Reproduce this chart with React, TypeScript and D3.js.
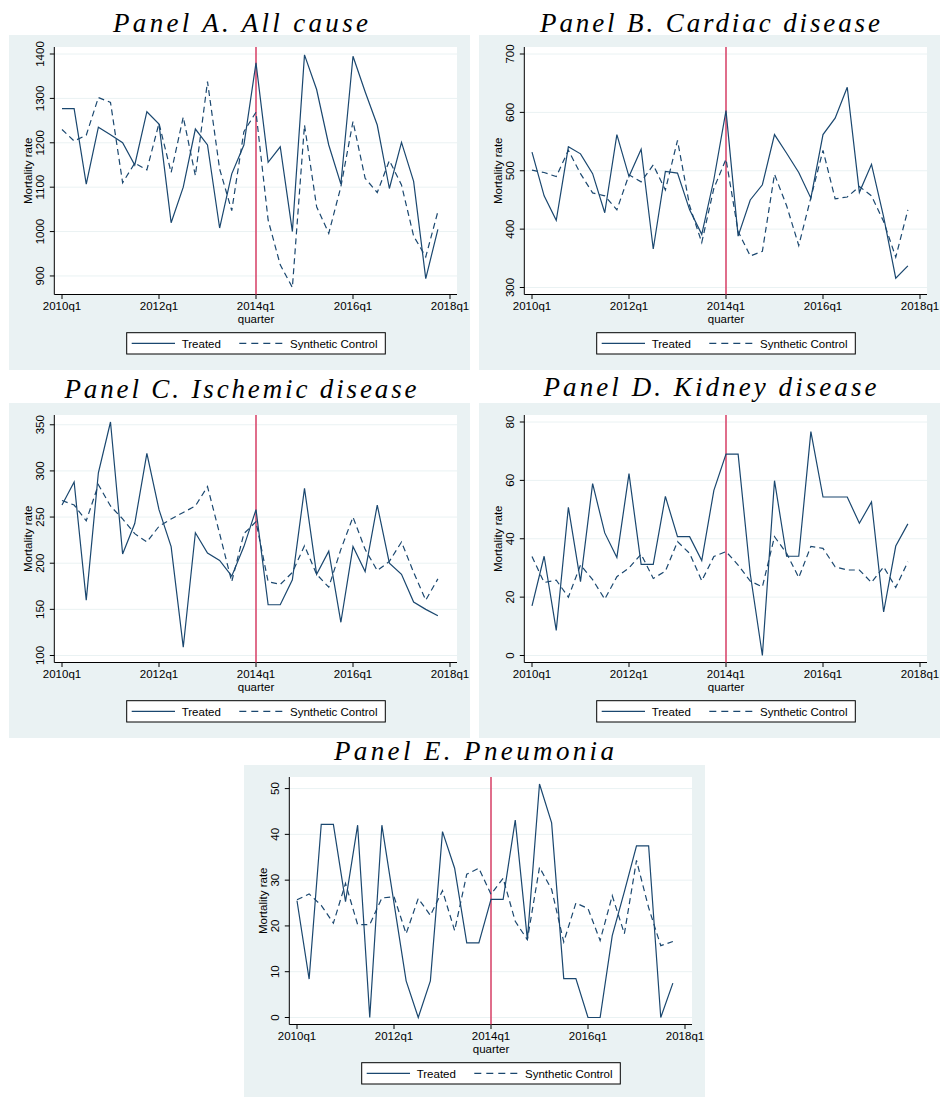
import React from "react";
import * as d3 from "d3";

// ---------- data (quarters 2010q1 .. 2017q4, index 0..31) ----------
const allTreated = [1277, 1277, 1107, 1235, 1218, 1200, 1150, 1270, 1242, 1020, 1100, 1231, 1195, 1008, 1130, 1195, 1380, 1156, 1191, 1000, 1398, 1320, 1195, 1107, 1395, 1315, 1240, 1097, 1201, 1113, 894, 1005];
const allSynth = [1230, 1204, 1217, 1302, 1291, 1110, 1154, 1139, 1244, 1133, 1258, 1126, 1338, 1141, 1047, 1225, 1269, 1026, 925, 874, 1240, 1056, 996, 1101, 1248, 1120, 1088, 1160, 1105, 990, 943, 1045];

const cardTreated = [532, 457, 415, 541, 529, 495, 428, 562, 490, 537, 366, 499, 496, 433, 391, 485, 603, 388, 450, 476, 562, 530, 497, 453, 562, 590, 643, 463, 511, 421, 316, 337];
const cardSynth = [501, 497, 490, 535, 495, 462, 457, 433, 493, 481, 510, 467, 552, 440, 377, 470, 520, 396, 354, 362, 494, 440, 372, 454, 535, 452, 455, 473, 457, 413, 352, 433];

const ischTreated = [263, 288, 160, 298, 353, 210, 243, 319, 258, 218, 109, 233, 211, 203, 186, 218, 258, 155, 155, 182, 281, 188, 213, 136, 218, 191, 263, 200, 188, 158, 150, 143];
const ischSynth = [268, 263, 246, 285, 262, 248, 232, 223, 240, 248, 255, 262, 283, 232, 180, 232, 245, 180, 177, 190, 219, 188, 174, 215, 250, 215, 192, 202, 223, 190, 160, 183];

const kidTreated = [17, 34, 8.6, 50.8, 25.3, 58.9, 42, 33.6, 62.3, 31.2, 31.2, 54.5, 40.7, 40.7, 32.5, 56.6, 69, 69, 28, 0, 59.9, 34, 34, 76.7, 54.3, 54.3, 54.3, 45.3, 52.6, 14.9, 37.5, 45.1];
const kidSynth = [33.9, 25, 25.8, 20, 31, 26, 19.3, 27, 30, 34.7, 26.4, 28.9, 39, 35, 25.6, 33.9, 35.6, 31, 25.5, 23.5, 40.7, 35, 26.7, 37.4, 36.7, 30.4, 29.3, 29.3, 25, 30.4, 23.3, 32.1];

const pneuTreated = [25.5, 8.4, 42.2, 42.2, 25.3, 42, 0, 42, 25, 8, 0, 8, 40.6, 32.6, 16.3, 16.3, 25.8, 25.8, 43.1, 17, 51, 42.5, 8.5, 8.5, 0, 0, 17.9, 27.5, 37.5, 37.5, 0, 7.5];
const pneuSynth = [25.7, 27, 24.5, 20.6, 29.3, 20.3, 20.3, 26.1, 26.4, 18.3, 26, 22.3, 27.7, 19, 31.3, 32.6, 26.9, 30.4, 21, 17, 32.8, 28, 16.5, 25, 23.8, 16.8, 26.6, 18.3, 34.3, 24, 15.7, 16.6];

const xTickPos = [0, 8, 16, 24, 32];
const xTickLabels = ["2010q1", "2012q1", "2014q1", "2016q1", "2018q1"];
const treatmentQuarter = 16;

const allTicks = [900, 1000, 1100, 1200, 1300, 1400];
const cardTicks = [300, 400, 500, 600, 700];
const ischTicks = [100, 150, 200, 250, 300, 350];
const kidTicks = [0, 20, 40, 60, 80];
const pneuTicks = [0, 10, 20, 30, 40, 50];

const titles = [
  "Panel A. All cause",
  "Panel B. Cardiac disease",
  "Panel C. Ischemic disease",
  "Panel D. Kidney disease",
  "Panel E. Pneumonia",
];
const legendLabels = ["Treated", "Synthetic Control"];

// ---------- styles ----------
const BG = "#eaf2f3";
const NAVY = "#1a476f";
const RED = "#d94a6e";
const SANS = "'Liberation Sans', Arial, sans-serif";
const SERIF = "'Liberation Serif', 'Times New Roman', serif";

const W = 461;
const H = 335;
const PLOT_L = 45.3;
const PLOT_R = 448;
const PLOT_T = 12;
const AXIS_Y = 259.5;

type PanelProps = {
  x0: number;
  y0: number;
  title: string;
  titleX: number;
  titleY: number;
  titleLen: number;
  treated: number[];
  synth: number[];
  ticks: number[];
};

function Panel({ x0, y0, title, titleX, titleY, titleLen, treated, synth, ticks }: PanelProps) {
  const x = d3.scaleLinear().domain([0, 32]).range([53, 441]);
  const lo = Math.min(d3.min(treated)!, d3.min(synth)!, ticks[0]);
  const hi = Math.max(d3.max(treated)!, d3.max(synth)!, ticks[ticks.length - 1]);
  const y = d3.scaleLinear().domain([lo, hi]).range([AXIS_Y - 7, PLOT_T + 7]);
  const line = d3
    .line<number>()
    .x((_, i) => x(i))
    .y((d) => y(d));
  const midY = (PLOT_T + AXIS_Y) / 2;
  return (
    <g>
      <text
        x={titleX}
        y={titleY}
        textAnchor="middle"
        fontFamily={SERIF}
        fontStyle="italic"
        fontSize={27}
        textLength={titleLen}
        lengthAdjust="spacing"
        fill="#000"
      >
        {title}
      </text>
      <g transform={`translate(${x0},${y0})`}>
        <rect x={0} y={0} width={W} height={H} fill={BG} />
        <rect x={PLOT_L} y={PLOT_T} width={PLOT_R - PLOT_L} height={AXIS_Y - PLOT_T} fill="#fff" />
        {ticks.map((t) => (
          <line key={"g" + t} x1={PLOT_L} x2={PLOT_R} y1={y(t)} y2={y(t)} stroke={BG} strokeWidth={1} />
        ))}
        {/* axes */}
        <line x1={PLOT_L} x2={PLOT_L} y1={PLOT_T} y2={AXIS_Y} stroke="#000" strokeWidth={1} />
        <line x1={PLOT_L} x2={PLOT_R} y1={AXIS_Y} y2={AXIS_Y} stroke="#000" strokeWidth={1} />
        {ticks.map((t) => (
          <g key={"yt" + t}>
            <line x1={PLOT_L - 4.5} x2={PLOT_L} y1={y(t)} y2={y(t)} stroke="#000" strokeWidth={1} />
            <text
              transform={`translate(34.5,${y(t)}) rotate(-90)`}
              textAnchor="middle"
              fontFamily={SANS}
              fontSize={11.5}
              fill="#000"
            >
              {t}
            </text>
          </g>
        ))}
        {xTickPos.map((p, i) => (
          <g key={"xt" + p}>
            <line x1={x(p)} x2={x(p)} y1={AXIS_Y} y2={AXIS_Y + 4.5} stroke="#000" strokeWidth={1} />
            <text x={x(p)} y={275} textAnchor="middle" fontFamily={SANS} fontSize={11.5} fill="#000">
              {xTickLabels[i]}
            </text>
          </g>
        ))}
        <text x={x(treatmentQuarter)} y={287.5} textAnchor="middle" fontFamily={SANS} fontSize={11.5} fill="#000">
          quarter
        </text>
        <text
          transform={`translate(23,${midY}) rotate(-90)`}
          textAnchor="middle"
          fontFamily={SANS}
          fontSize={11.5}
          fill="#000"
        >
          Mortality rate
        </text>
        {/* treatment line */}
        <line
          x1={x(treatmentQuarter)}
          x2={x(treatmentQuarter)}
          y1={PLOT_T}
          y2={AXIS_Y}
          stroke={RED}
          strokeWidth={1.6}
        />
        {/* series */}
        <path d={line(synth) || ""} fill="none" stroke={NAVY} strokeWidth={1.2} strokeDasharray="6,4" />
        <path d={line(treated) || ""} fill="none" stroke={NAVY} strokeWidth={1.2} />
        {/* legend */}
        <rect x={117.7} y={297.7} width={258.6} height={21.3} fill="#fff" stroke="#000" strokeWidth={1} />
        <line x1={122.7} x2={166} y1={308.3} y2={308.3} stroke={NAVY} strokeWidth={1.2} />
        <text x={172.7} y={312.5} fontFamily={SANS} fontSize={11.5} fill="#000">
          {legendLabels[0]}
        </text>
        <line x1={230.3} x2={274.3} y1={308.3} y2={308.3} stroke={NAVY} strokeWidth={1.2} strokeDasharray="7,5" />
        <text x={281} y={312.5} fontFamily={SANS} fontSize={11.5} fill="#000">
          {legendLabels[1]}
        </text>
      </g>
    </g>
  );
}

export default function App() {
  return (
    <svg
      width={940}
      height={1097}
      style={{ position: "absolute", left: 0, top: 0, background: "#fff" }}
    >
      <rect x={0} y={0} width={940} height={1097} fill="#fff" />
      <Panel x0={9} y0={35} title={titles[0]} titleX={240.5} titleY={32} titleLen={255} treated={allTreated} synth={allSynth} ticks={allTicks} />
      <Panel x0={479} y0={35} title={titles[1]} titleX={710} titleY={32} titleLen={340} treated={cardTreated} synth={cardSynth} ticks={cardTicks} />
      <Panel x0={9} y0={403} title={titles[2]} titleX={240.5} titleY={398} titleLen={352} treated={ischTreated} synth={ischSynth} ticks={ischTicks} />
      <Panel x0={479} y0={403} title={titles[3]} titleX={710} titleY={396} titleLen={333} treated={kidTreated} synth={kidSynth} ticks={kidTicks} />
      <Panel x0={244} y0={765} title={titles[4]} titleX={474} titleY={760} titleLen={280} treated={pneuTreated} synth={pneuSynth} ticks={pneuTicks} />
    </svg>
  );
}
